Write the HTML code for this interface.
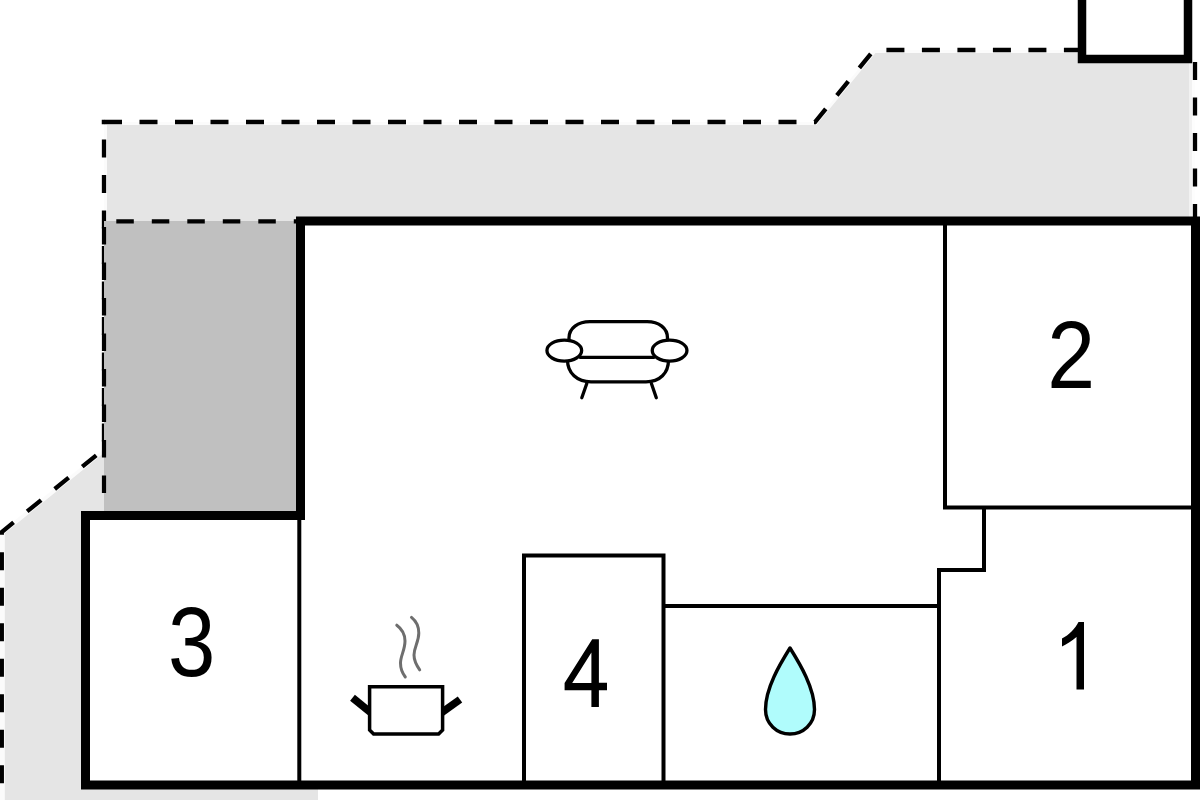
<!DOCTYPE html>
<html><head><meta charset="utf-8"><title>Floor plan</title>
<style>
html,body{margin:0;padding:0;background:#fff;width:1200px;height:800px;overflow:hidden}
svg{display:block}
</style></head>
<body>
<svg width="1200" height="800" viewBox="0 0 1200 800">
  <!-- light gray terrace -->
  <path d="M104,122 L815,122 L874,50 L1188,50 L1188,59 L1195,59 L1195,785 L318,785 L318,800 L0,800 L0,532 L104,449 Z" fill="#e5e5e5"/>
  <!-- soft halo between fill and dashed outline -->
  <g fill="none" stroke="#fff" stroke-width="6" opacity="0.85">
    <path d="M104,449 L104,122 L815,122 L874,50 L1082,50"/>
    <path d="M104,449 L1.8,532 L1.8,800"/>
    <path d="M1195,59 L1195,221"/>
  </g>
  <g fill="none" stroke="#fff" stroke-width="12" opacity="0.5">
    <path d="M1195,59 L1195,221"/>
  </g>
  <!-- dashed outline of terrace -->
  <g fill="none" stroke="#000" stroke-width="4.3">
    <path d="M104,122 L815,122 L874,50 L1082,50" stroke-dasharray="18 17.5"/>
    <rect x="101.75" y="119.75" width="2.5" height="4.5" fill="#000" stroke="none"/>
    <path d="M104,122 L104,449 L1.8,532 L1.8,800" stroke-dasharray="18 17.5" stroke-dashoffset="18"/>
    <path d="M1195,62 L1195,221" stroke-dasharray="18 17.5"/>
  </g>
  <!-- dark gray rect -->
  <rect x="104" y="221" width="192" height="290" fill="#c0c0c0"/>
  <path d="M104,528.5 L104,221.3 L296,221.3" fill="none" stroke="#000" stroke-width="4.2" stroke-dasharray="17.5 18"/>
  <!-- top right box -->
  <rect x="1082" y="-10" width="106" height="69" fill="#fff" stroke="#000" stroke-width="8.5"/>
  <!-- house -->
  <path d="M300.5,221 H1195.5 V785 H85.5 V515.5 H300.5 Z" fill="#fff" stroke="#000" stroke-width="9" stroke-linejoin="miter"/>
  <!-- thin walls -->
  <g fill="none" stroke="#000" stroke-width="4">
    <path d="M299.3,516 V785"/>
    <path d="M945,221 V507.5 H1195"/>
    <path d="M984,507.5 V570 H939 V785"/>
    <path d="M663.5,606 H939"/>
    <path d="M524,785 V555.5 H663.5 V785"/>
  </g>
  <!-- numbers -->
  <path d="M592.2,639.2 H598.9 V682.8 H607 V690.2 H598.9 V707 H591.4 V690.2 H564.6 V683 Z M591.4,652.5 L572.2,683 H591.4 Z" fill="#000" fill-rule="evenodd"/>
  <path d="M1084,622 L1084,689.5 L1076.5,689.5 L1076.5,637 C1072,641 1067,644 1062,646.5 L1062,638.5 C1069,635 1075,629 1078.5,622 Z" fill="#000"/>
  <g font-family="Liberation Sans" font-size="100" fill="#000">
    <text transform="translate(1051.5,388.5) scale(0.86,0.964) translate(-105,-200)" x="100" y="200">2</text>
    <text transform="translate(171.5,676.5) scale(0.851,0.979) translate(-304,-201)" x="300" y="200">3</text>
    
  </g>
  <!-- sofa -->
  <g fill="none" stroke="#000" stroke-width="3.3" stroke-linecap="round">
    <path d="M569,345 V338 C569,328 578,321.7 590,321.7 H647 C659,321.7 667.5,328 667.5,338 V345"/>
    <path d="M580,357.3 H654"/>
    <path d="M567.5,360 C567.5,373 577,381.8 591,381.8 H646 C660,381.8 668.5,373 668.5,360"/>
    <ellipse cx="564.3" cy="350.6" rx="17.35" ry="10.5" fill="#fff"/>
    <ellipse cx="669.6" cy="350.6" rx="17.35" ry="10.5" fill="#fff"/>
    <path d="M586.8,383.5 L581.8,397.8"/>
    <path d="M651.4,383.5 L656.3,397.8"/>
  </g>
  <!-- pot -->
  <g fill="none" stroke="#000">
    <path d="M352.5,697.8 L376,716.9" stroke-width="7.6"/>
    <path d="M436,716.7 L460,699.5" stroke-width="7.6"/>
    <path d="M369.6,686.8 H442.6 V730 L438.6,734 H373.6 L369.6,730 Z" stroke-width="3.5" fill="#fff"/>
    <path d="M396.8,625.2 C402,629 405,634 405,641 C405,650 400.5,656 400.5,663 C400.5,669 403,674 405.3,677" stroke="#6e6e6e" stroke-width="3" stroke-linecap="round"/>
    <path d="M411.5,617.4 C416,621 418.8,626 418.8,633 C418.8,642 414,647 414,655 C414,661 417,666 419.7,669.8" stroke="#6e6e6e" stroke-width="3" stroke-linecap="round"/>
  </g>
  <!-- water drop -->
  <path d="M790,648 C800,664 814.5,688 814.5,709.5 C814.5,724 803,734 790,734 C777,734 765.5,724 765.5,709.5 C765.5,688 780,664 790,648 Z" fill="#b0fcfc" stroke="#000" stroke-width="3.4" stroke-linejoin="round"/>
</svg>
</body></html>
